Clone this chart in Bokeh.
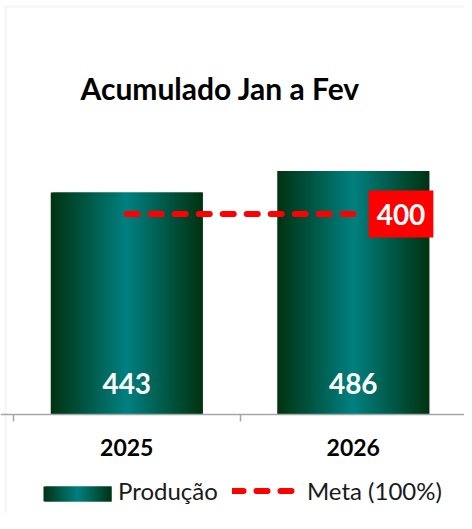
from bokeh.plotting import figure
from bokeh.models import Range1d, FixedTicker, Label, Legend, LegendItem, BoxAnnotation
from bokeh.core.properties import value
from bokeh.embed import file_html
from bokeh.resources import INLINE

# ---- data ----
categories = ["2025", "2026"]
production = [443, 486]
meta = [400, 400]
title_text = "Acumulado Jan a Fev"
series_names = ["Produção", "Meta (100%)"]

# ---- layout constants (pixels) ----
W, H = 464, 513
X0_PX, UNIT_X = 13, 226.5      # px of x=0, px per category
Y0_PX, UNIT_Y = 413.5, 0.5     # px of y=0 (from top), px per unit
x_start = -X0_PX / UNIT_X
x_end = (W - X0_PX) / UNIT_X
y_end = Y0_PX / UNIT_Y
y_start = -(H - Y0_PX) / UNIT_Y

def px_x(fx):
    return x_start + fx / W * (x_end - x_start)

def px_y(fy):
    return y_end - fy / H * (y_end - y_start)

BAR_W = 152 / UNIT_X
N_STRIPS = 76
DARK = (0, 51, 17)
TEAL = (0, 128, 128)

def grad(t):
    s = 1 - abs(2 * t - 1)
    c = [round(DARK[j] + s * (TEAL[j] - DARK[j])) for j in range(3)]
    return "#%02x%02x%02x" % tuple(c)

p = figure(width=W, height=H, x_range=Range1d(x_start, x_end), y_range=Range1d(y_start, y_end),
           output_backend="svg", toolbar_location=None, min_border=0,
           min_border_left=0, min_border_right=0, min_border_top=0, min_border_bottom=0,
           y_axis_location=None)
p.grid.visible = False
p.outline_line_color = None
p.background_fill_color = "white"
p.border_fill_color = "white"

# chart-area border
p.add_layout(BoxAnnotation(left=px_x(5), right=px_x(490), top=px_y(6), bottom=px_y(560),
                           fill_alpha=0, line_color="#D9D9D9", line_width=2, level="underlay"))

# ---- gradient bars (overlapping strips) ----
xs = [i + 0.5 for i in range(len(categories))]
L, R, T, B, C = [], [], [], [], []
for xc, v in zip(xs, production):
    step = BAR_W / N_STRIPS
    for k in range(N_STRIPS):
        l = xc - BAR_W / 2 + k * step
        r = l + (2 * step if k < N_STRIPS - 1 else step)
        L.append(l); R.append(r); T.append(v); B.append(0)
        C.append(grad((k + 0.5) / N_STRIPS))
p.quad(left=L, right=R, top=T, bottom=B, fill_color=C, line_color=None)

# invisible bar renderer for the legend entry
bars = p.vbar(x=xs, top=production, width=BAR_W, fill_alpha=0, line_alpha=0)

# bar value labels
p.text(x=xs, y=[0] * len(xs), text=[str(v) for v in production], y_offset=-31,
       text_align="center", text_baseline="middle", text_color="white",
       text_font=value("Lato"), text_font_style="bold", text_font_size="28px")

# ---- meta line ----
meta_r = p.line(x=xs, y=meta, line_color="#FF0000", line_width=6, line_dash="11 13", line_cap="round")
p.add_layout(Label(x=xs[-1], y=meta[-1], x_offset=47.75, text=str(meta[-1]),
                   text_align="center", text_baseline="middle", text_color="white",
                   text_font="Lato", text_font_style="bold", text_font_size="28px",
                   background_fill_color="#FF0000",
                   padding=dict(left=8, right=8, top=13, bottom=13)))

# ---- axis ----
ax = p.xaxis[0]
ax.fixed_location = 0
ax.ticker = FixedTicker(ticks=xs, minor_ticks=[0, 1, 2])
ax.major_label_overrides = {x: c for x, c in zip(xs, categories)}
ax.major_tick_out = 0
ax.major_tick_in = 0
ax.minor_tick_out = 7
ax.minor_tick_in = 0
ax.minor_tick_line_color = "#A6A6A6"
ax.minor_tick_line_width = 1.5
ax.axis_line_color = "#A6A6A6"
ax.axis_line_width = 1.5
ax.major_label_standoff = 18
ax.major_label_text_font = "Lato"
ax.major_label_text_font_style = "bold"
ax.major_label_text_font_size = "23px"
ax.major_label_text_color = "black"

# ---- title ----
p.add_layout(Label(x=80, y=H - 87, x_units="screen", y_units="screen", text=title_text,
                   text_font="Lato", text_font_style="bold", text_font_size="30px",
                   text_baseline="middle", text_color="black"))

# ---- legend gradient swatch (under transparent legend glyph) ----
SW_L, SW_R, SW_T, SW_B = 43, 111, 486, 501
n_sw = 34
sl, sr, sc = [], [], []
for k in range(n_sw):
    a = SW_L + k * (SW_R - SW_L) / n_sw
    b = SW_L + (k + 2) * (SW_R - SW_L) / n_sw if k < n_sw - 1 else SW_R
    sl.append(px_x(a)); sr.append(px_x(b)); sc.append(grad((k + 0.5) / n_sw))
p.quad(left=sl, right=sr, top=[px_y(SW_T)] * n_sw, bottom=[px_y(SW_B)] * n_sw,
       fill_color=sc, line_color=None)

legend = Legend(items=[LegendItem(label=series_names[0], renderers=[bars]),
                       LegendItem(label=series_names[1], renderers=[meta_r])],
                location=(43, 8), orientation="horizontal",
                glyph_width=66, glyph_height=15, label_standoff=9, spacing=14,
                padding=0, margin=0, border_line_alpha=0, background_fill_alpha=0,
                label_text_font="Lato", label_text_font_size="24px", label_text_color="#1a1a1a")
p.add_layout(legend)

open("out.html", "w").write(file_html(p, INLINE))
